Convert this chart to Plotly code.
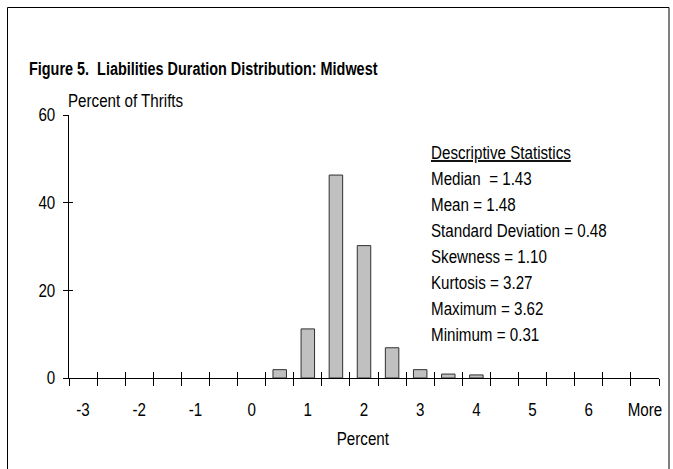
import plotly.graph_objects as go

# Histogram bins (upper bin edges, percent units) and share of thrifts in each bin
categories = ["-3", "-2.5", "-2", "-1.5", "-1", "-0.5", "0", "0.5", "1", "1.5",
              "2", "2.5", "3", "3.5", "4", "4.5", "5", "5.5", "6", "6.5", "More"]
percent_of_thrifts = [0, 0, 0, 0, 0, 0, 0, 1.9, 11.2, 46.3, 30.2, 6.9, 1.9, 0.9, 0.7,
                      0, 0, 0, 0, 0, 0]
tick_labels = ["-3", "", "-2", "", "-1", "", "0", "", "1", "", "2", "", "3", "", "4",
               "", "5", "", "6", "", "More"]
y_ticks = [0, 20, 40, 60]

stats_title = "Descriptive Statistics"
stats_lines = ["Median  = 1.43", "Mean = 1.48", "Standard Deviation = 0.48",
               "Skewness = 1.10", "Kurtosis = 3.27", "Maximum = 3.62", "Minimum = 0.31"]

FONT = "Liberation Sans, Arial, Helvetica, sans-serif"
FS = 18.5          # body text size (drawn condensed, see NARROW below)
NARROW = 0.82      # horizontal squeeze applied to all text for a narrow-sans look
W, H = 673, 469
L, R, T, B = 69, 14, 115, 91
PW, PH = W - L - R, H - T - B


def px_x(px):
    return (px - L) / PW


def px_y(py):
    return (H - B - py) / PH


fig = go.Figure()
fig.add_trace(go.Bar(
    x=categories,
    y=[v if v > 0 else None for v in percent_of_thrifts],
    marker=dict(color="#c0c0c0", line=dict(color="#303030", width=1)),
    showlegend=False,
    hoverinfo="x+y",
))
# empty trace that carries the overlay axes used for the inner halves of the ticks
fig.add_trace(go.Scatter(x=[None], y=[None], xaxis="x2", yaxis="y2",
                         showlegend=False, hoverinfo="skip"))

n = len(categories)
fig.update_layout(
    width=W, height=H,
    margin=dict(l=L, r=R, t=T, b=B, pad=0, autoexpand=False),
    paper_bgcolor="white", plot_bgcolor="white",
    font=dict(family=FONT, size=FS, color="black"),
    bargap=0.52,
    xaxis=dict(
        type="category", categoryorder="array", categoryarray=categories,
        range=[-0.5, n - 0.5], automargin=False,
        tickmode="array", tickvals=categories, ticktext=tick_labels, tickangle=0,
        tickson="boundaries", ticks="outside", ticklen=7, tickwidth=1, tickcolor="black",
        showline=True, linecolor="black", linewidth=1,
        showgrid=False, zeroline=False, ticklabelstandoff=15,
        tickfont=dict(family=FONT, size=FS),
    ),
    xaxis2=dict(
        overlaying="x", anchor="y", range=[-0.5, n - 0.5], automargin=False,
        tickmode="array", tickvals=[i - 0.5 for i in range(n + 1)],
        ticks="inside", ticklen=6, tickwidth=1, tickcolor="black",
        showticklabels=False, showgrid=False, zeroline=False, showline=False,
    ),
    yaxis=dict(
        range=[0, 60], tickmode="array", tickvals=y_ticks, automargin=False,
        ticks="outside", ticklen=5, tickwidth=1, tickcolor="black",
        showline=True, linecolor="black", linewidth=1,
        showgrid=False, zeroline=False, ticklabelstandoff=4,
        tickfont=dict(family=FONT, size=FS),
    ),
    yaxis2=dict(
        overlaying="y", anchor="x", range=[0, 60], tickmode="array", tickvals=y_ticks,
        ticks="inside", ticklen=4, tickwidth=1, tickcolor="black", automargin=False,
        showticklabels=False, showgrid=False, zeroline=False, showline=False,
    ),
)

# outer frame of the figure
fig.add_shape(type="rect", xref="paper", yref="paper",
              x0=px_x(7.5), x1=px_x(669), y0=px_y(480), y1=px_y(7.5),
              line=dict(color="black", width=1), fillcolor="rgba(0,0,0,0)", layer="below")

fig.add_annotation(text="<b>Figure 5.  Liabilities Duration Distribution: Midwest</b>",
                   xref="paper", yref="paper", x=px_x(27), y=px_y(69),
                   xanchor="left", yanchor="middle", align="left", showarrow=False,
                   font=dict(family=FONT, size=17.6))
fig.add_annotation(text="Percent of Thrifts", xref="paper", yref="paper",
                   x=px_x(66), y=px_y(100), xanchor="left", yanchor="middle", align="left",
                   showarrow=False, font=dict(family=FONT, size=FS))
fig.add_annotation(text="Percent", xref="paper", yref="paper",
                   x=px_x(363), y=px_y(438), xanchor="center", yanchor="middle",
                   showarrow=False, font=dict(family=FONT, size=FS))

fig.add_annotation(text="<u>" + stats_title + "</u>", xref="paper", yref="paper",
                   x=px_x(429), y=px_y(152), xanchor="left", yanchor="middle", align="left",
                   showarrow=False, font=dict(family=FONT, size=FS))
for i, line in enumerate(stats_lines):
    fig.add_annotation(text=line, xref="paper", yref="paper",
                       x=px_x(429), y=px_y(178 + 26 * i), xanchor="left", yanchor="middle",
                       align="left", showarrow=False, font=dict(family=FONT, size=FS))

# squeeze every text element horizontally around its anchor point
condense_js = """
var gd = document.getElementById('{plot_id}');
var S = %s;
gd.querySelectorAll('svg text').forEach(function (el) {
  var bb = el.getBBox();
  if (!bb.width) { return; }
  var anchor = el.getAttribute('text-anchor') || 'start';
  var ax = anchor === 'middle' ? bb.x + bb.width / 2
         : (anchor === 'end' ? bb.x + bb.width : bb.x);
  var t = el.getAttribute('transform') || '';
  el.setAttribute('transform', t + ' translate(' + ax + ',0) scale(' + S + ',1) translate(' + (-ax) + ',0)');
});
""" % NARROW

fig.write_html("out.html", post_script=condense_js)
